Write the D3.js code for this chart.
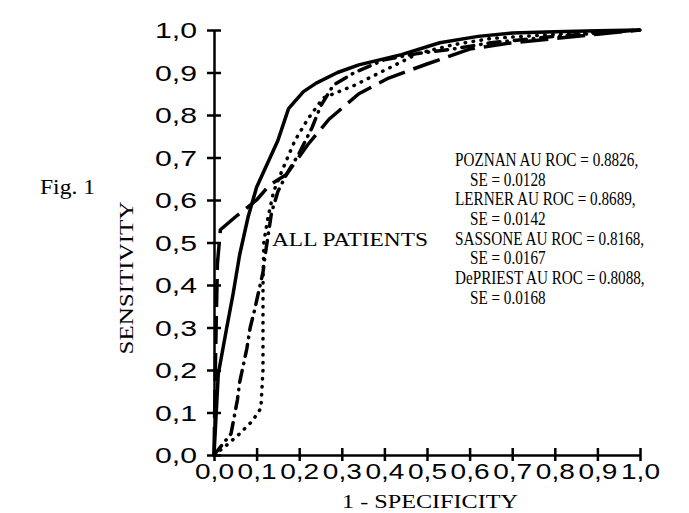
<!DOCTYPE html>
<html>
<head>
<meta charset="utf-8">
<script src="https://cdn.jsdelivr.net/npm/d3@7"></script>
<style>
  body { margin: 0; background: #fff; }
  .serif { font-family: "Liberation Serif", "Times New Roman", serif; fill: #000; }
  .axis text { font-family: "Liberation Sans", Arial, sans-serif; font-size: 22px; fill: #000; }
</style>
</head>
<body>
<div id="container"></div>
<script>
/* DATA */
const names = ["POZNAN", "LERNER", "SASSONE", "DePRIEST"];
const aucValues = ["0.8826", "0.8689", "0.8168", "0.8088"];
const seValues = ["0.0128", "0.0142", "0.0167", "0.0168"];
const tickValues = [0, 0.1, 0.2, 0.3, 0.4, 0.5, 0.6, 0.7, 0.8, 0.9, 1.0];

// [1 - specificity, sensitivity]
const poznan = [[0,0],[0.01,0.19],[0.03,0.3],[0.045,0.38],[0.06,0.47],[0.08,0.56],[0.1,0.63],
  [0.15,0.74],[0.175,0.815],[0.21,0.855],[0.24,0.875],[0.29,0.9],[0.34,0.918],[0.44,0.942],
  [0.53,0.97],[0.62,0.985],[0.7,0.993],[0.8,0.996],[0.9,0.998],[1,1]];
const lerner = [[0,0],[0.004,0.25],[0.008,0.45],[0.015,0.53],[0.05,0.56],[0.1,0.6],[0.13,0.635],
  [0.17,0.66],[0.22,0.73],[0.27,0.79],[0.34,0.85],[0.41,0.887],[0.5,0.92],[0.6,0.955],
  [0.7,0.97],[0.8,0.98],[0.9,0.99],[1,1]];
const sassone = [[0,0],[0.026,0.02],[0.06,0.05],[0.09,0.08],[0.11,0.11],[0.115,0.2],[0.115,0.4],
  [0.117,0.5],[0.125,0.55],[0.14,0.62],[0.16,0.67],[0.19,0.74],[0.22,0.79],[0.256,0.84],
  [0.33,0.87],[0.4,0.905],[0.48,0.945],[0.56,0.965],[0.65,0.98],[0.8,0.99],[1,1]];
const depriest = [[0,0],[0.04,0.05],[0.055,0.13],[0.06,0.17],[0.077,0.25],[0.085,0.3],[0.095,0.34],
  [0.115,0.43],[0.12,0.47],[0.135,0.57],[0.15,0.62],[0.17,0.66],[0.2,0.71],[0.23,0.77],
  [0.25,0.82],[0.28,0.87],[0.33,0.9],[0.4,0.93],[0.48,0.945],[0.56,0.955],[0.65,0.97],
  [0.8,0.985],[1,1]];

const width = 689, height = 513;

const svg = d3.select("#container")
  .append("svg")
  .attr("width", width)
  .attr("height", height);

// SCALES
const x = d3.scaleLinear().domain([0, 1]).range([214, 640]);
const y = d3.scaleLinear().domain([0, 1]).range([455, 30]);

const fmt = d => d3.format(".1f")(d).replace(".", ",");

// Y AXIS
const yAxis = svg.append("g")
  .attr("class", "axis")
  .attr("transform", `translate(${x(0)},0)`)
  .call(d3.axisLeft(y).tickValues(tickValues).tickFormat(fmt).tickSizeOuter(0));
yAxis.select(".domain").attr("stroke", "#000").attr("stroke-width", 2.5);
yAxis.selectAll(".tick line").attr("x1", -7).attr("x2", 7).attr("stroke-width", 2.5);
yAxis.selectAll(".tick text")
  .attr("x", -17)
  .attr("dy", "0.36em")
  .attr("text-anchor", "end")
  .attr("textLength", 42)
  .attr("lengthAdjust", "spacingAndGlyphs");

// X AXIS
const xAxis = svg.append("g")
  .attr("class", "axis")
  .attr("transform", `translate(0,${y(0)})`)
  .call(d3.axisBottom(x).tickValues(tickValues).tickFormat(fmt).tickSizeOuter(0));
xAxis.select(".domain").attr("stroke", "#000").attr("stroke-width", 2.5);
xAxis.selectAll(".tick line").attr("y1", -7).attr("y2", 6).attr("stroke-width", 2.5);
xAxis.selectAll(".tick text")
  .attr("y", 8)
  .attr("dy", "0.71em")
  .attr("textLength", 39)
  .attr("lengthAdjust", "spacingAndGlyphs");

// CURVES
const line = d3.line().x(d => x(d[0])).y(d => y(d[1]));

const curves = [
  { data: lerner, dash: "28,9", cap: "butt" },
  { data: depriest, dash: "12,7,0.5,7", cap: "round" },
  { data: sassone, dash: "0.5,7.5", cap: "round" },
  { data: poznan, dash: null, cap: "round" }
];

svg.selectAll("path.roc")
  .data(curves)
  .join("path")
  .attr("class", "roc")
  .attr("d", d => line(d.data))
  .attr("fill", "none")
  .attr("stroke", "#000")
  .attr("stroke-width", 3.5)
  .attr("stroke-linejoin", "round")
  .attr("stroke-linecap", d => d.cap)
  .attr("stroke-dasharray", d => d.dash);

// TEXTS
svg.append("text")
  .attr("class", "serif")
  .attr("x", 40).attr("y", 194)
  .attr("font-size", 20)
  .attr("textLength", 55)
  .attr("lengthAdjust", "spacingAndGlyphs")
  .text("Fig. 1");

svg.append("text")
  .attr("class", "serif")
  .attr("transform", "translate(133,278) rotate(-90)")
  .attr("text-anchor", "middle")
  .attr("font-size", 19)
  .attr("textLength", 153)
  .attr("lengthAdjust", "spacingAndGlyphs")
  .text("SENSITIVITY");

svg.append("text")
  .attr("class", "serif")
  .attr("x", 430).attr("y", 508)
  .attr("text-anchor", "middle")
  .attr("font-size", 19)
  .attr("textLength", 176)
  .attr("lengthAdjust", "spacingAndGlyphs")
  .text("1 - SPECIFICITY");

svg.append("text")
  .attr("class", "serif")
  .attr("x", 272).attr("y", 246)
  .attr("font-size", 19)
  .attr("textLength", 156)
  .attr("lengthAdjust", "spacingAndGlyphs")
  .text("ALL PATIENTS");

// LEGEND TEXT
const legendLines = [];
names.forEach((n, i) => {
  legendLines.push({ t: `${n} AU ROC = ${aucValues[i]},`, indent: 0 });
  legendLines.push({ t: `SE = ${seValues[i]}`, indent: 15 });
});

const legend = svg.append("g")
  .attr("transform", "translate(455,0) scale(0.8,1)");

legend.selectAll("text.legend")
  .data(legendLines)
  .join("text")
  .attr("class", "legend serif")
  .attr("x", d => d.indent / 0.8)
  .attr("y", (d, i) => 166 + i * 19.7)
  .attr("font-size", 19)
  .text(d => d.t);
</script>
</body>
</html>
